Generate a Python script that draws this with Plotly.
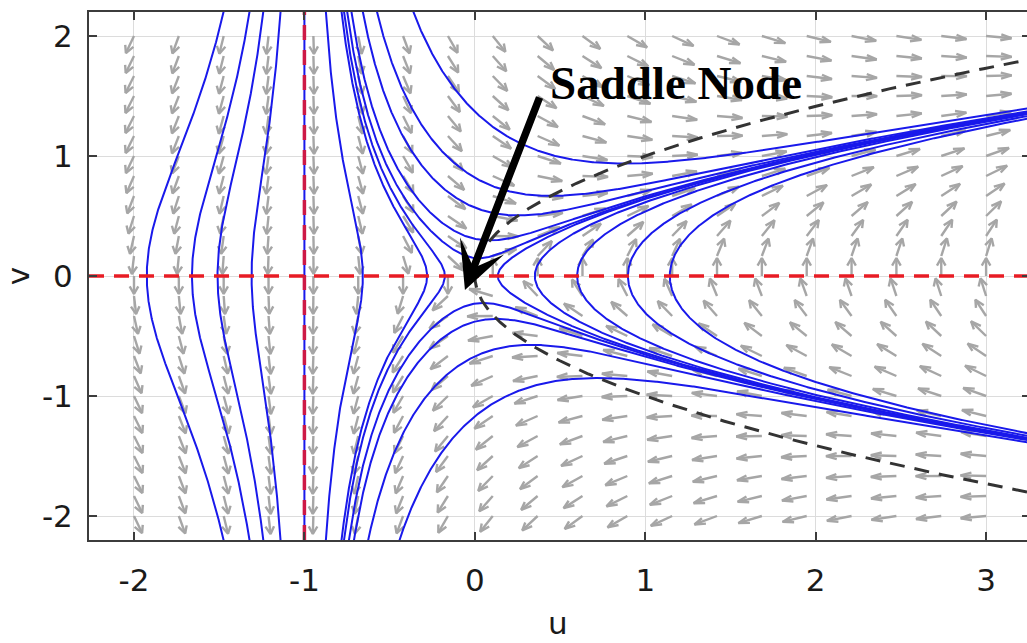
import numpy as np
import plotly.graph_objects as go

# Phase plane of  u' = v (1 + u),  v' = u - v^2
def field(u, v):
    return v * (1.0 + u), u - v * v

# Axis window
U_RANGE = [-2.264, 3.24]
V_RANGE = [-2.2, 2.2]

# Direction-field grid
u_grid = np.linspace(-2.0, 3.0, 20)
v_grid = np.linspace(-2.0, 2.0, 25)
ARROW_LEN = 0.15

# Streamline seeds
left_vertices = [-1.925, -1.66, -1.51, -1.31]        # v = 0 crossings, u < -1
singular_u = [-1.0]                                   # invariant line u = -1
mid_vertices = [-0.657, -0.28, -0.176]                # v = 0 crossings, -1 < u < 0
right_vertices = [0.135, 0.352, 0.6, 0.898, 1.144]    # v = 0 crossings, u > 0
upper_crossings = [0.15, 0.31, 0.57, 0.82, 1.37]      # v where u = 0 (upper family)
lower_crossings = [-0.23, -0.38, -0.67, -1.17]        # v where u = 0 (lower family)
equilibrium_v = [0.0]

tick_u = [-2, -1, 0, 1, 2, 3]
tick_v = [-2, -1, 0, 1, 2]

# pixels per data unit, used to step streamlines evenly on screen
SX, SY = 170.4, 120.1


def direction(u, v):
    f1, f2 = field(u, v)
    n = np.hypot(f1 * SX, f2 * SY)
    if n < 1e-12:
        return 0.0, 0.0
    return f1 / n, f2 / n


def inside(u, v, pad=0.05):
    return (U_RANGE[0] - pad <= u <= U_RANGE[1] + pad) and (V_RANGE[0] - pad <= v <= V_RANGE[1] + pad)


def integrate(u0, v0, sign, h=1.0, nmax=8000):
    us, vs = [u0], [v0]
    u, v = u0, v0
    for _ in range(nmax):
        a = direction(u, v)
        b = direction(u + 0.5 * h * sign * a[0], v + 0.5 * h * sign * a[1])
        c = direction(u + 0.5 * h * sign * b[0], v + 0.5 * h * sign * b[1])
        d = direction(u + h * sign * c[0], v + h * sign * c[1])
        u += h * sign * (a[0] + 2 * b[0] + 2 * c[0] + d[0]) / 6.0
        v += h * sign * (a[1] + 2 * b[1] + 2 * c[1] + d[1]) / 6.0
        us.append(u)
        vs.append(v)
        if not inside(u, v):
            break
    return us, vs


def streamline(u0, v0):
    ub, vb = integrate(u0, v0, -1.0)
    uf, vf = integrate(u0, v0, 1.0)
    return ub[::-1] + uf[1:], vb[::-1] + vf[1:]


seeds = ([(u, 0.0) for u in left_vertices]
         + [(u, 0.0) for u in singular_u]
         + [(u, 0.0) for u in mid_vertices]
         + [(u, 0.0) for u in right_vertices]
         + [(0.0, v) for v in upper_crossings]
         + [(0.0, v) for v in lower_crossings])

fig = go.Figure()

# Direction field (unit arrows, MATLAB-style heads)
alpha, beta = 0.42, 0.4
qx, qy = [], []
for u in u_grid:
    for v in v_grid:
        f1, f2 = field(u, v)
        n = np.hypot(f1, f2)
        if n == 0:
            continue
        du, dv = ARROW_LEN * f1 / n, ARROW_LEN * f2 / n
        tu, tv = u + du, v + dv
        b1 = (tu - alpha * (du + beta * dv), tv - alpha * (dv - beta * du))
        b2 = (tu - alpha * (du - beta * dv), tv - alpha * (dv + beta * du))
        qx += [u, tu, None, b1[0], tu, b2[0], None]
        qy += [v, tv, None, b1[1], tv, b2[1], None]
fig.add_trace(go.Scatter(x=qx, y=qy, mode="lines",
                         line=dict(color="#a6a6a6", width=2.4),
                         hoverinfo="skip"))

# Trajectories
for (u0, v0) in seeds:
    xs, ys = streamline(u0, v0)
    fig.add_trace(go.Scatter(x=xs, y=ys, mode="lines",
                             line=dict(color="rgb(25,25,235)", width=2),
                             hoverinfo="skip"))

# u' = 0 nullclines (red dashed)
for v0 in equilibrium_v:
    fig.add_trace(go.Scatter(x=U_RANGE, y=[v0, v0], mode="lines",
                             line=dict(color="rgb(232,28,36)", width=3.5, dash="15px,10px"),
                             hoverinfo="skip"))
for u0 in singular_u:
    fig.add_trace(go.Scatter(x=[u0, u0], y=V_RANGE, mode="lines",
                             line=dict(color="rgb(205,25,70)", width=3.5, dash="15px,10px"),
                             hoverinfo="skip"))

# v' = 0 nullcline  u = v^2  (black dashed)
vn = np.linspace(-np.sqrt(U_RANGE[1]), np.sqrt(U_RANGE[1]), 300)
fig.add_trace(go.Scatter(x=vn ** 2, y=vn, mode="lines",
                         line=dict(color="#333333", width=3, dash="15px,10px"),
                         hoverinfo="skip"))

# helper trace for right-hand tick marks
fig.add_trace(go.Scatter(x=[], y=[], yaxis="y2", hoverinfo="skip"))

tick_font = dict(family="DejaVu Sans", size=31, color="#1a1a1a")
axis_col = "#3c3c3c"

fig.update_layout(
    width=1027, height=643,
    margin=dict(l=89, r=0, t=12, b=103),
    paper_bgcolor="white", plot_bgcolor="white",
    showlegend=False,
    xaxis=dict(range=U_RANGE, tickvals=tick_u, ticktext=[str(t) for t in tick_u],
               ticks="inside", ticklen=8, tickwidth=1.5, tickcolor=axis_col,
               showline=True, linecolor=axis_col, linewidth=2, mirror="ticks",
               showgrid=True, gridcolor="#dcdcdc", gridwidth=1, zeroline=False,
               tickfont=tick_font, ticklabelstandoff=12),
    yaxis=dict(range=V_RANGE, tickvals=tick_v, ticktext=[str(t) for t in tick_v],
               ticks="inside", ticklen=8, tickwidth=1.5, tickcolor=axis_col,
               showline=True, linecolor=axis_col, linewidth=2, mirror=False,
               showgrid=True, gridcolor="#dcdcdc", gridwidth=1, zeroline=False,
               tickfont=tick_font, ticklabelstandoff=8,
               title=dict(text="v", font=tick_font, standoff=6)),
    yaxis2=dict(range=V_RANGE, overlaying="y", side="right", tickvals=tick_v,
                ticks="inside", ticklen=5, tickwidth=1.5, tickcolor=axis_col,
                showticklabels=False, showgrid=False, showline=False, zeroline=False),
)

# x-axis title, placed at the bottom edge of the figure
fig.add_annotation(x=0.5, y=-0.195, xref="paper", yref="paper", text="u",
                   showarrow=False, xanchor="center", yanchor="bottom", font=tick_font)

# Saddle label and pointer
fig.add_annotation(x=0.432, y=1.61, xref="x", yref="y", text="Saddle Node",
                   showarrow=False, xanchor="left", yanchor="middle",
                   font=dict(family="Liberation Serif", size=47, color="black", weight="bold"))
fig.add_annotation(x=-0.058, y=-0.116, xref="x", yref="y",
                   ax=0.383, ay=1.5, axref="x", ayref="y", text="",
                   showarrow=True, arrowhead=3, arrowsize=1.05, arrowwidth=7.5,
                   arrowcolor="black")

fig.write_html("out.html")
